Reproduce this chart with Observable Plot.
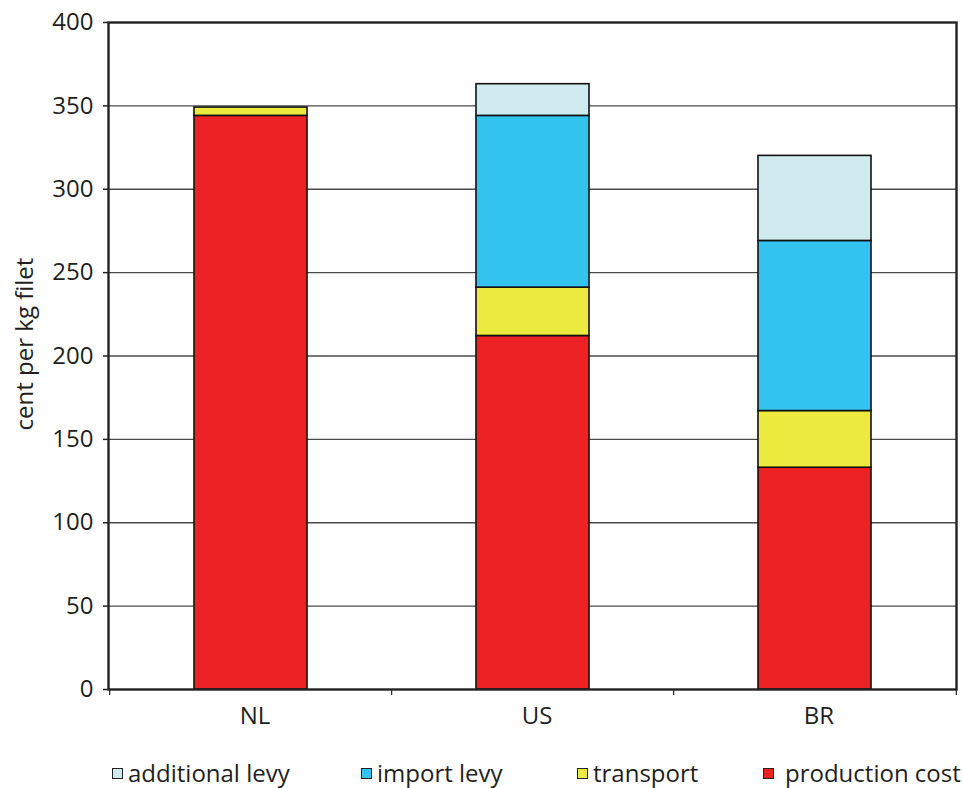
<!DOCTYPE html>
<html>
<head>
<meta charset="utf-8">
<script src="https://cdn.jsdelivr.net/npm/d3@7"></script>
<script src="https://cdn.jsdelivr.net/npm/@observablehq/plot@0.6"></script>
<style>
  body { margin: 0; background: #fff; font-family: "Open Sans", sans-serif; color: #231f20; }
  #legend { position: relative; width: 963px; height: 38px; font-size: 24px; }
  .item { position: absolute; top: 9px; display: flex; align-items: center; white-space: nowrap; line-height: 28px; }
  .sw { width: 9px; height: 9px; border: 1.5px solid #222; box-sizing: content-box; }
</style>
</head>
<body>
<div id="chart"></div>
<div id="legend"></div>
<script>
// Cost build-up per kg of filet, by country of origin
const countries = ["NL", "US", "BR"];
const components = ["production cost", "transport", "import levy", "additional levy"];
const productionCost = [344, 212, 133];
const transport = [5, 29, 34];
const importLevy = [0, 103, 102];
const additionalLevy = [0, 19, 51];
const colors = ["#ed2224", "#ece93f", "#33c3ef", "#d0ebf0"];
const yTicks = [0, 50, 100, 150, 200, 250, 300, 350, 400];
const yTitle = "cent per kg filet";

// Legend order and swatch/text placement along the bottom
const legendOrder = ["additional levy", "import levy", "transport", "production cost"];
const legendLeft = [112, 361, 577, 763];
const legendGap = [5, 5, 5, 11];

const series = [productionCost, transport, importLevy, additionalLevy];
const rows = [];
countries.forEach((c, i) => {
  components.forEach((k, j) => {
    if (series[j][i] > 0) rows.push({country: c, component: k, value: series[j][i]});
  });
});

const W = 963, H = 750, mL = 108, mR = 7, mT = 22, mB = 61;
const step = (W - mL - mR) / countries.length;

const chart = Plot.plot({
  width: W,
  height: H,
  marginLeft: mL,
  marginRight: mR,
  marginTop: mT,
  marginBottom: mB,
  style: {fontFamily: "'Open Sans', sans-serif", fontSize: "24px", color: "#231f20", background: "#fff"},
  x: {domain: countries, paddingInner: 0.6, paddingOuter: 0.3, label: null},
  y: {domain: [0, 400], label: null},
  color: {domain: components, range: colors},
  marks: [
    Plot.ruleY(yTicks.slice(1, -1), {stroke: "#4a4a4a", strokeWidth: 1.3}),
    Plot.barY(rows, {
      x: "country",
      y: "value",
      fill: "component",
      order: components,
      stroke: "#111",
      strokeWidth: 1.6
    }),
    Plot.axisY({ticks: yTicks, tickSize: 5, tickPadding: 10, stroke: "#222", strokeWidth: 1.5, label: null}),
    Plot.text([yTitle], {frameAnchor: "left", textAnchor: "middle", rotate: -90, dx: -83, dy: -12, fontSize: 24, fill: "#231f20"}),
    Plot.axisX({tickSize: 0, tickPadding: 17, dx: 4}),
    // category separators below the x axis
    Plot.ruleX(countries, {x: d => d, dx: -step / 2, y1: 0, insetBottom: -6, stroke: "#222", strokeWidth: 1.2}),
    Plot.ruleX(countries.slice(-1), {x: d => d, dx: step / 2, y1: 0, insetBottom: -6, stroke: "#222", strokeWidth: 1.2}),
    Plot.frame({stroke: "#222", strokeWidth: 2.4})
  ]
});
document.getElementById("chart").append(chart);

const legend = document.getElementById("legend");
legendOrder.forEach((k, i) => {
  const item = document.createElement("div");
  item.className = "item";
  item.style.left = legendLeft[i] + "px";
  const sw = document.createElement("span");
  sw.className = "sw";
  sw.style.background = colors[components.indexOf(k)];
  sw.style.marginRight = legendGap[i] + "px";
  const label = document.createElement("span");
  label.textContent = k;
  item.append(sw, label);
  legend.append(item);
});
</script>
</body>
</html>
